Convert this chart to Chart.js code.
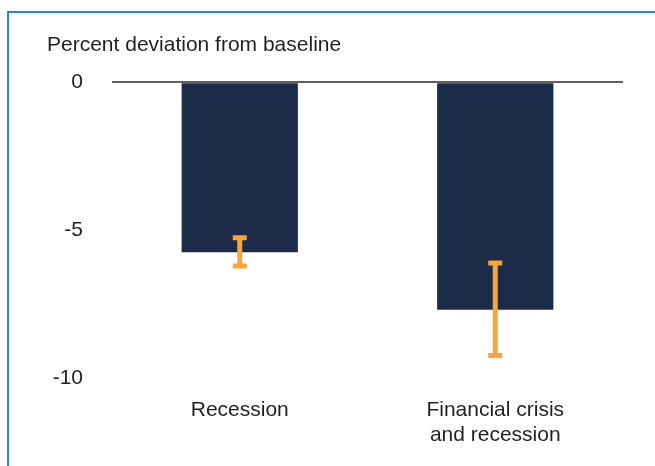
<!DOCTYPE html>
<html lang="en">
<head>
    <meta charset="UTF-8">
    <title>Percent deviation from baseline</title>
    <script src="https://cdn.jsdelivr.net/npm/chart.js@4.4.1/dist/chart.umd.min.js"></script>
    <style>
        body {
            margin: 0;
            background: #fff;
            font-family: "Liberation Sans", Arial, sans-serif;
        }
        .frame {
            position: absolute;
            left: 7px;
            top: 11px;
            right: 0;
            bottom: 0;
            border-left: 2px solid #2f86cc;
            border-top: 2px solid #2f86cc;
        }
        .chart-box {
            position: absolute;
            left: 0;
            top: 0;
            width: 655px;
            height: 466px;
        }
    </style>
</head>
<body>
    <div class="frame"></div>
    <div class="chart-box">
        <canvas id="deviationChart"></canvas>
    </div>

    <script>
        const categories = ['Recession', ['Financial crisis', 'and recession']];
        const deviation = [-5.74, -7.68];
        // range of the estimate, drawn as error bars over each bar
        const rangeHigh = [-5.25, -6.1];
        const rangeLow = [-6.2, -9.22];
        const yTicks = [0, -5, -10];

        const navy = '#1c2b47';
        const orange = '#f6a63b';
        const textColor = '#231f20';

        const errorBars = {
            id: 'errorBars',
            afterDatasetsDraw(chart) {
                const ctx = chart.ctx;
                const meta = chart.getDatasetMeta(0);
                const y = chart.scales.y;
                ctx.save();
                ctx.strokeStyle = orange;
                ctx.lineWidth = 5;
                ctx.lineCap = 'butt';
                meta.data.forEach((bar, i) => {
                    const x = bar.x;
                    const top = y.getPixelForValue(rangeHigh[i]);
                    const bottom = y.getPixelForValue(rangeLow[i]);
                    ctx.beginPath();
                    ctx.moveTo(x, top);
                    ctx.lineTo(x, bottom);
                    ctx.moveTo(x - 7, top);
                    ctx.lineTo(x + 7, top);
                    ctx.moveTo(x - 7, bottom);
                    ctx.lineTo(x + 7, bottom);
                    ctx.stroke();
                });
                ctx.restore();
            }
        };

        const ctx = document.getElementById('deviationChart').getContext('2d');
        new Chart(ctx, {
            type: 'bar',
            data: {
                labels: categories,
                datasets: [{
                    data: deviation,
                    backgroundColor: navy,
                    borderWidth: 0,
                    barPercentage: 1,
                    categoryPercentage: 0.455
                }]
            },
            options: {
                responsive: true,
                maintainAspectRatio: false,
                animation: false,
                layout: {
                    padding: { left: 47, right: 32, top: 33, bottom: 7 }
                },
                plugins: {
                    legend: { display: false },
                    tooltip: { enabled: false },
                    title: {
                        display: true,
                        text: 'Percent deviation from baseline',
                        align: 'start',
                        color: textColor,
                        font: { family: 'Liberation Sans', size: 21, weight: 'normal' },
                        padding: { top: 0, bottom: 24 }
                    }
                },
                scales: {
                    x: {
                        grid: { display: false },
                        border: { display: false },
                        ticks: {
                            color: textColor,
                            padding: 11,
                            maxRotation: 0,
                            font: { family: 'Liberation Sans', size: 21, lineHeight: 1.2 }
                        }
                    },
                    y: {
                        min: -10,
                        max: 0,
                        afterFit(scale) {
                            scale.width = 65;
                        },
                        afterBuildTicks(scale) {
                            scale.ticks = yTicks.map(v => ({ value: v }));
                        },
                        border: { display: false },
                        grid: {
                            drawTicks: false,
                            lineWidth: 2,
                            color: c => (c.tick && c.tick.value === 0 ? '#5f5f5f' : 'rgba(0,0,0,0)')
                        },
                        ticks: {
                            color: textColor,
                            padding: 29,
                            font: { family: 'Liberation Sans', size: 21 }
                        }
                    }
                }
            },
            plugins: [errorBars]
        });
    </script>
</body>
</html>
